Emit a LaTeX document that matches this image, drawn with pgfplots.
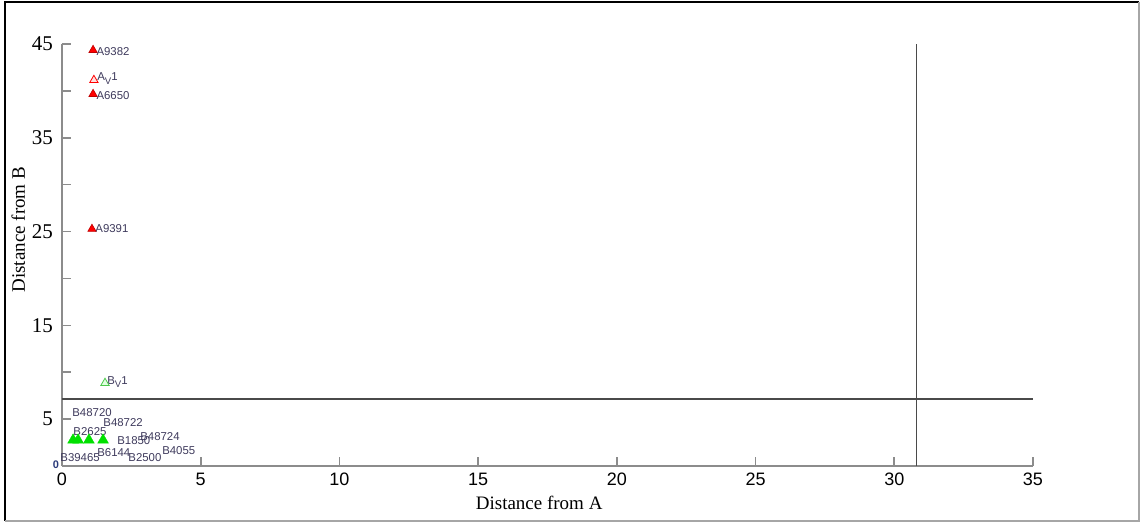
\documentclass[border=0pt]{standalone}
\usepackage{fontspec}
\setmainfont{Liberation Serif}
\newfontfamily\lsans{Liberation Sans}
\usepackage{pgfplots}
\pgfplotsset{compat=1.18}
\definecolor{axgray}{HTML}{8C8C8C}
\definecolor{refgray}{HTML}{4A4A4A}
\definecolor{lblcol}{HTML}{3E3A5C}
\definecolor{mygreen}{HTML}{00E000}
\definecolor{zerocol}{HTML}{2A3A7A}
\begin{document}
\begin{tikzpicture}
\useasboundingbox (-31pt,-29pt) rectangle (539.5pt,233pt);
\draw[black,line width=0.8pt] (-28.5pt,-27.5pt) -- (-28.5pt,232pt) -- (538.5pt,232pt);
\draw[gray!70,line width=0.8pt] (538.5pt,232pt) -- (538.5pt,-27.5pt) -- (-28.5pt,-27.5pt);
\begin{axis}[
  at={(0pt,0pt)}, anchor=south west,
  scale only axis, width=485.5pt, height=211pt,
  xmin=0, xmax=35, ymin=0, ymax=45,
  axis lines=left,
  axis line style={axgray, line width=0.8pt, -},
  tick style={axgray, line width=0.8pt},
  tick align=inside,
  major tick length=4.5pt,
  xtick={0,5,...,35},
  ytick={0,5,...,45},
  yticklabels={{\raisebox{1pt}{\lsans\bfseries\fontsize{5.5}{6}\selectfont\color{zerocol}0}\hspace*{-3pt}},5,{},15,{},25,{},35,{},45},
  /pgf/number format/assume math mode=true,
  x tick label style={font=\lsans\fontsize{9}{10}\selectfont},
  y tick label style={font=\fontsize{10.5}{11}\selectfont, xshift=-1pt},
  clip=false,
]
% reference lines
\addplot[refgray, line width=0.8pt] coordinates {(0,7.15) (35,7.15)};
\addplot[refgray, line width=0.8pt] coordinates {(30.8,0) (30.8,45)};
% A group (filled red)
\addplot[only marks, mark=triangle*, mark size=2.4pt, mark options={fill=red, draw=red!75!black, line width=0.3pt}]
  coordinates {(1.12,44.35) (1.12,39.66) (1.08,25.27)};
% A_V1 (open red)
\addplot[only marks, mark=triangle*, mark size=2.4pt, mark options={fill=red!12, draw=red, line width=0.4pt}]
  coordinates {(1.15,41.15)};
% B group (filled green)
\addplot[only marks, mark=triangle*, mark size=3.1pt, mark options={fill=mygreen, draw=mygreen, line width=0.2pt}]
  coordinates {(0.40,2.77) (0.58,2.77) (0.97,2.77) (1.48,2.77)};
% B_V1 (open green)
\addplot[only marks, mark=triangle*, mark size=2.4pt, mark options={fill=green!12, draw=green!70!black!70, line width=0.4pt}]
  coordinates {(1.55,8.85)};
% labels
\begin{scope}[every node/.style={font=\lsans\fontsize{5.7}{6}\selectfont, text=lblcol, anchor=west, inner sep=0pt}]
\node at (axis cs:1.23,44.2) {A9382};
\node at (axis cs:1.26,41.3) {A\raisebox{-1.8pt}{\fontsize{4.8}{5}\selectfont V}1};
\node at (axis cs:1.23,39.55) {A6650};
\node at (axis cs:1.19,25.27) {A9391};
\node at (axis cs:1.62,8.96) {B\raisebox{-1.8pt}{\fontsize{4.8}{5}\selectfont V}1};
\node at (axis cs:0.36,5.65) {B48720};
\node at (axis cs:0.40,3.62) {B2625};
\node at (axis cs:1.48,4.58) {B48722};
\node at (axis cs:1.98,2.67) {B1850};
\node at (axis cs:2.81,3.09) {B48724};
\node at (axis cs:3.60,1.6) {B4055};
\node at (axis cs:2.38,0.85) {B2500};
\node at (axis cs:1.26,1.39) {B6144};
\node at (axis cs:-0.07,0.85) {B39465};
\end{scope}
\node[font=\fontsize{9.5}{10}\selectfont, anchor=center] at (axis cs:17.2,-3.95) {Distance from A};
\node[font=\fontsize{9.5}{10}\selectfont, anchor=center, rotate=90] at (axis cs:-1.58,25.2) {Distance from B};
\end{axis}
\end{tikzpicture}
\end{document}
